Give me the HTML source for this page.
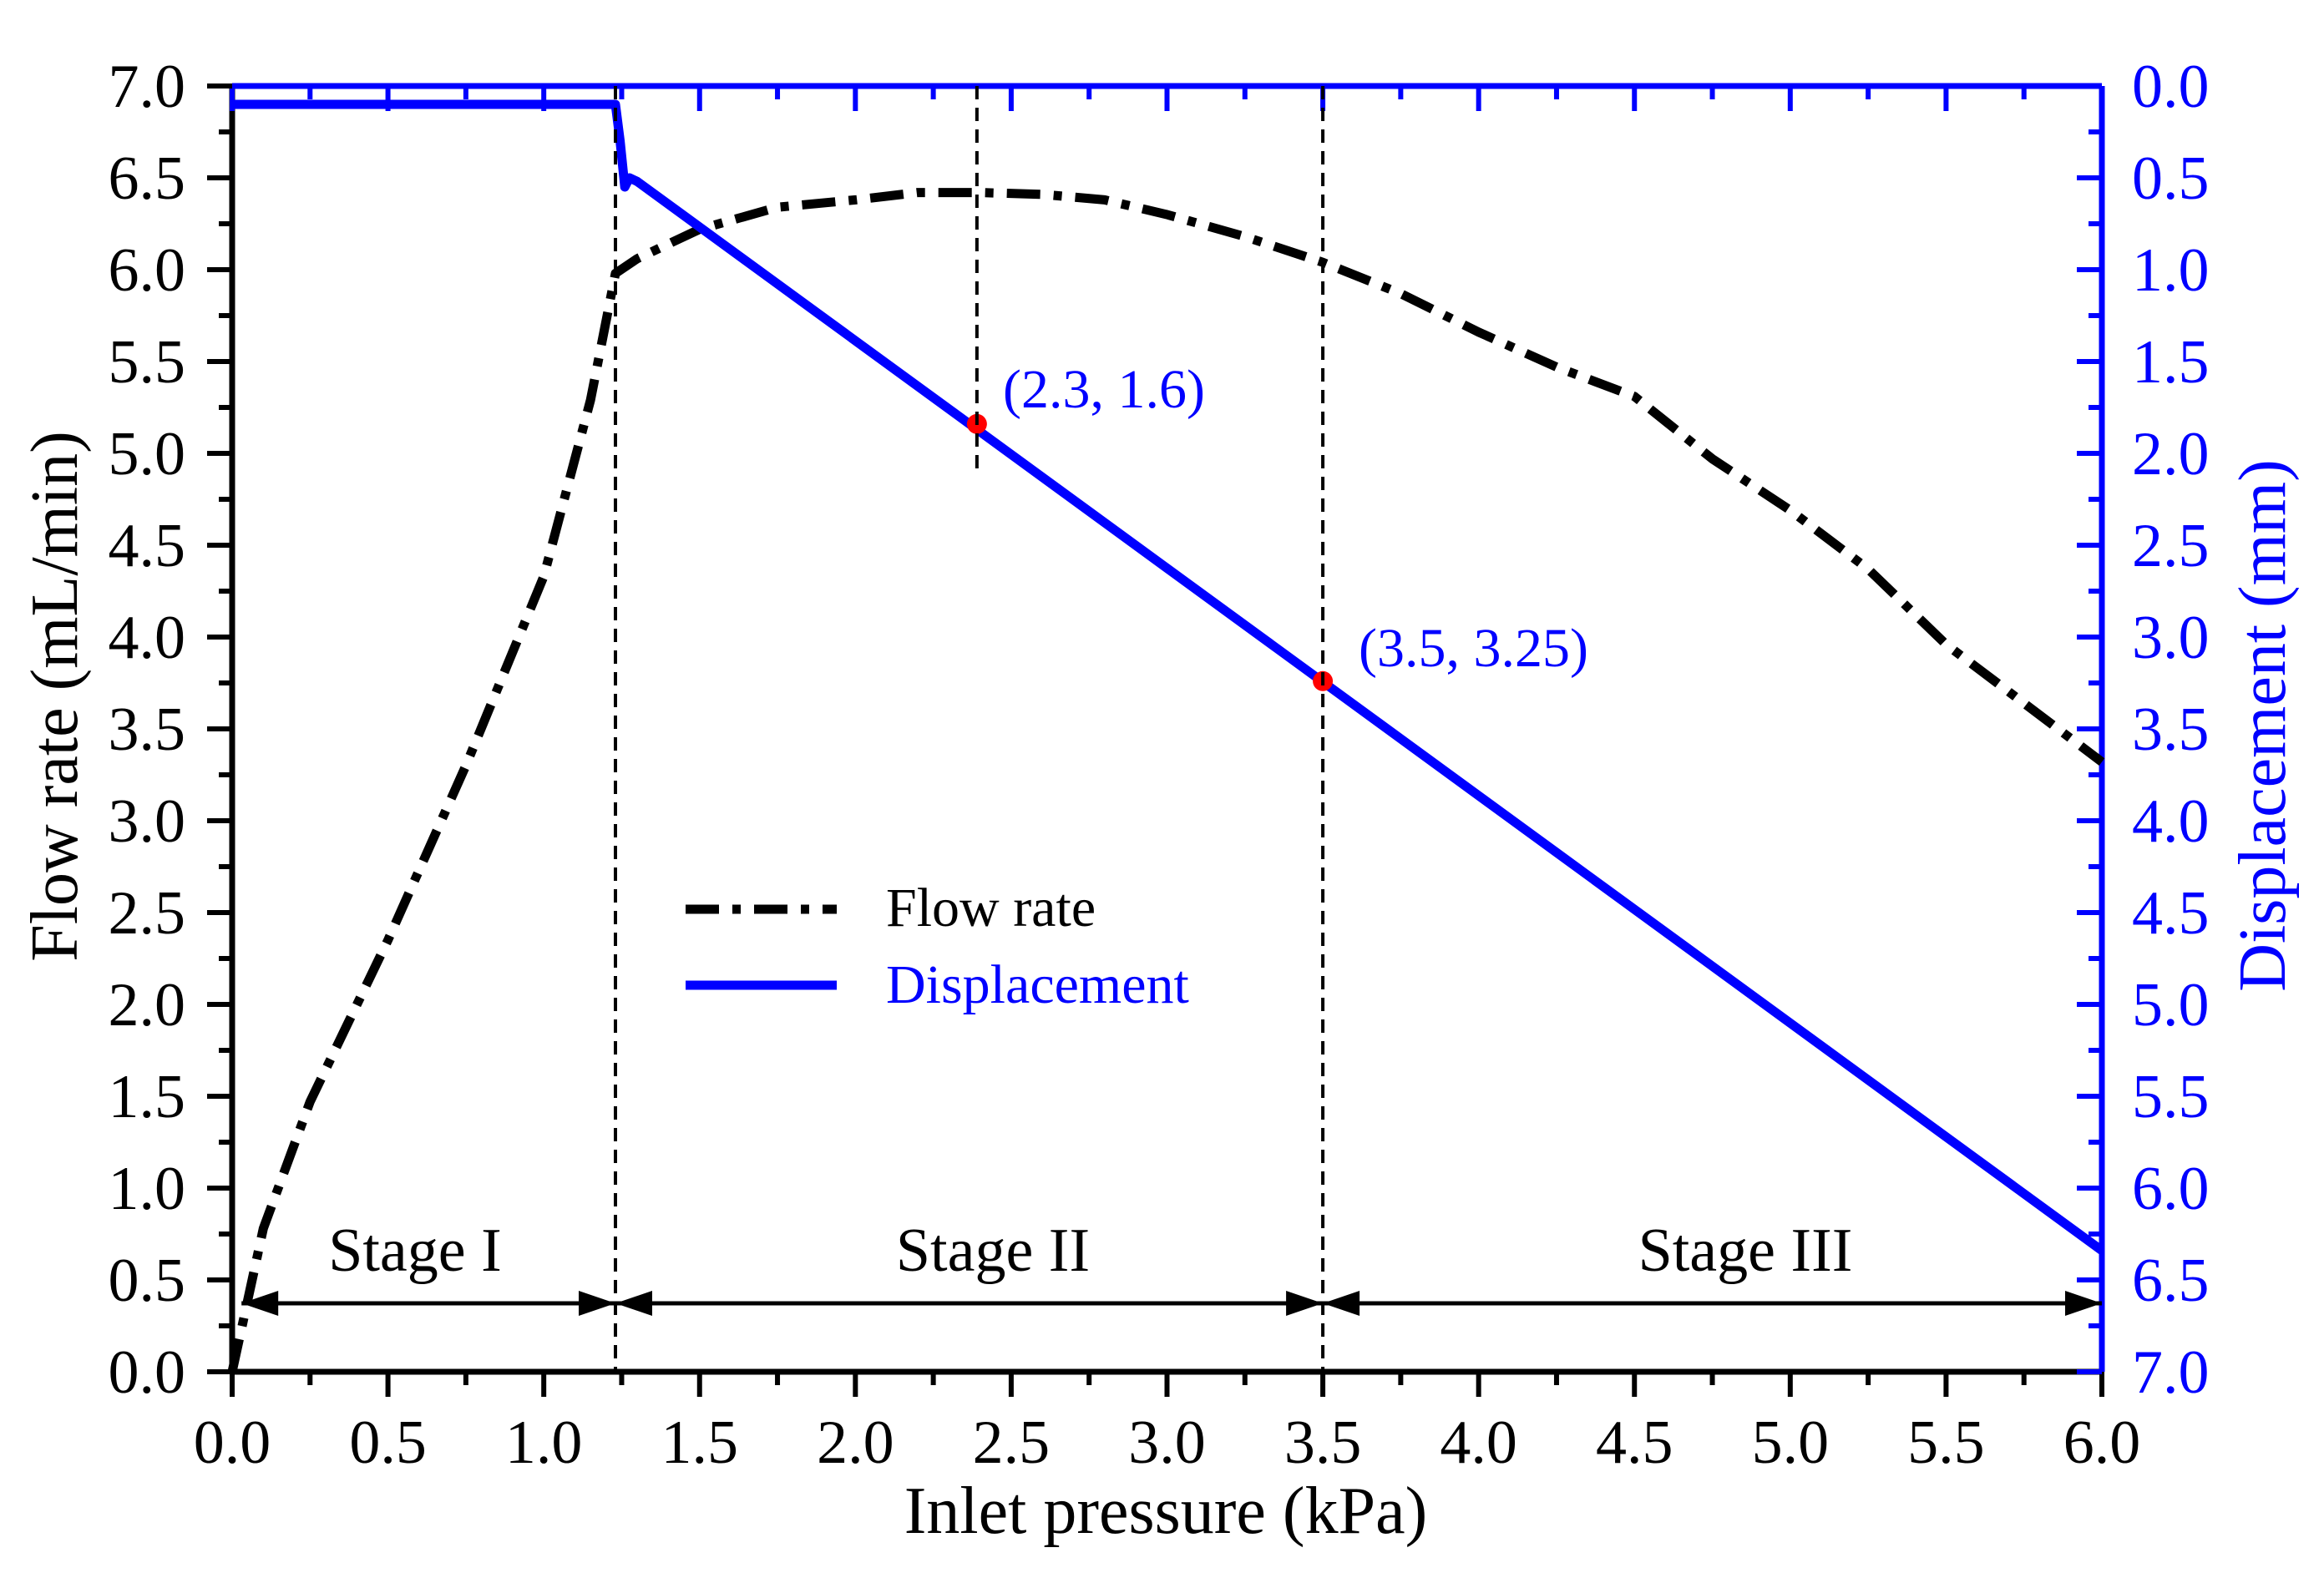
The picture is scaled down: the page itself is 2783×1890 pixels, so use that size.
<!DOCTYPE html>
<html><head><meta charset="utf-8"><style>
html,body{margin:0;padding:0;background:#fff;}
svg{display:block;font-family:"Liberation Serif",serif;}
</style></head><body>
<svg id="chart" width="2783" height="1890" viewBox="0 0 2783 1890" xmlns="http://www.w3.org/2000/svg">
<g id="grid"></g>
<g id="axes"></g>
<g id="series"></g>
<g id="annot"></g>
</svg>
<script>
const pressureX = [0,0.1,0.25,0.5,0.75,1.0,1.15,1.23,1.3,1.5,1.75,2.0,2.2,2.4,2.6,2.8,3.0,3.25,3.5,3.75,4.0,4.25,4.5,4.75,5.0,5.25,5.5,5.75,6.0];
const flowRate = [0,0.78,1.47,2.35,3.3,4.33,5.29,5.98,6.06,6.22,6.34,6.38,6.42,6.42,6.41,6.38,6.30,6.18,6.04,5.87,5.66,5.47,5.31,4.97,4.69,4.37,3.96,3.64,3.32];
const dispX = [0,1.23,1.245,1.26,1.275,1.3,6.0];
const dispY = [0.1,0.1,0.3,0.55,0.5,0.52,6.34];
const markerX = [2.39,3.5];
const markerD = [1.84,3.24];
const markerLabels = ["(2.3, 1.6)","(3.5, 3.25)"];
const stageBounds = [0.03,1.23,3.5,6.0];
const stageLabels = ["Stage I","Stage II","Stage III"];
const xTicks = [0,0.5,1,1.5,2,2.5,3,3.5,4,4.5,5,5.5,6];
const yTicks = [0,0.5,1,1.5,2,2.5,3,3.5,4,4.5,5,5.5,6,6.5,7];

const L=278,R=2517,T=103,B=1643;
const X=v=>L+v*(R-L)/6;
const YL=v=>B-v*(B-T)/7;
const YR=d=>T+d*(B-T)/7;
const NS="http://www.w3.org/2000/svg";
function mk(tag,attrs,parent,text){const e=document.createElementNS(NS,tag);for(const k in attrs)e.setAttribute(k,attrs[k]);if(text!==undefined)e.textContent=text;parent.appendChild(e);return e;}
const axes=document.getElementById('axes'),series=document.getElementById('series'),annot=document.getElementById('annot');

let e;
e=mk('line',{x1:L,y1:B,x2:R,y2:B,stroke:'#000','stroke-width':7},axes);


e=mk('line',{x1:L,y1:T,x2:L,y2:B,stroke:'#000','stroke-width':7},axes);


e=mk('line',{x1:L,y1:T,x2:R,y2:T,stroke:'#00f','stroke-width':7},axes);


e=mk('line',{x1:R,y1:T,x2:R,y2:B,stroke:'#00f','stroke-width':7},axes);



for(let i=0;i<=24;i++){const v=i*0.25;const maj=i%2===0;
 mk('line',{x1:X(v),y1:B,x2:X(v),y2:B+(maj?30:16),stroke:'#000','stroke-width':6},axes);
 mk('line',{x1:X(v),y1:T,x2:X(v),y2:T+(maj?30:16),stroke:'#00f','stroke-width':6},axes);}
xTicks.forEach(v=>{e=mk('text',{x:X(v),y:1752,'text-anchor':'middle','font-size':74,fill:'#000'},axes,v.toFixed(1));
 
 });
for(let i=0;i<=28;i++){const v=i*0.25;const maj=i%2===0;
 mk('line',{x1:L-(maj?30:16),y1:YL(v),x2:L,y2:YL(v),stroke:'#000','stroke-width':6},axes);
 mk('line',{x1:R-(maj?30:16),y1:YL(v),x2:R,y2:YL(v),stroke:'#00f','stroke-width':6},axes);}
yTicks.forEach(v=>{e=mk('text',{x:222,y:YL(v)+25,'text-anchor':'end','font-size':74,fill:'#000'},axes,v.toFixed(1));
 
 
 e=mk('text',{x:2553,y:YR(v)+25,'text-anchor':'start','font-size':74,fill:'#00f'},axes,v.toFixed(1));
 
 });
e=mk('text',{x:1396,y:1836,'text-anchor':'middle','font-size':80,fill:'#000'},axes,'Inlet pressure (kPa)');


e=mk('text',{x:0,y:0,'text-anchor':'middle','font-size':80,fill:'#000',transform:'translate(92,834) rotate(-90)'},axes,'Flow rate (mL/min)');


e=mk('text',{x:0,y:0,'text-anchor':'middle','font-size':80,fill:'#00f',transform:'translate(2736,869) rotate(-90)'},axes,'Displacement (mm)');



[[stageBounds[1],T,B],[markerX[0],T,YL(4.88)],[stageBounds[2],T,B]].forEach(s=>{
 e=mk('line',{x1:X(s[0]),y1:s[1],x2:X(s[0]),y2:s[2],stroke:'#000','stroke-width':4,'stroke-dasharray':'16 10'},annot);
 
 });

e=mk('polyline',{points:pressureX.map((x,i)=>X(x)+','+YL(flowRate[i])).join(' '),fill:'none',stroke:'#000','stroke-width':11,'stroke-dasharray':'40 16 10 16','stroke-linejoin':'round'},series);


e=mk('polyline',{points:dispX.map((x,i)=>X(x)+','+YR(dispY[i])).join(' '),fill:'none',stroke:'#00f','stroke-width':11,'stroke-linejoin':'round'},series);


markerX.forEach((x,i)=>{
 e=mk('circle',{cx:X(x),cy:YR(markerD[i]),r:12,fill:'#f00'},series);
 
 });
e=mk('text',{x:1201,y:488,'font-size':66,fill:'#00f'},annot,markerLabels[0]);


e=mk('text',{x:1627,y:798,'font-size':66,fill:'#00f'},annot,markerLabels[1]);



const ay=1561;
for(let i=0;i<3;i++){const x1=X(stageBounds[i]),x2=X(stageBounds[i+1]);
 e=mk('line',{x1:x1,y1:ay,x2:x2,y2:ay,stroke:'#000','stroke-width':5},annot);
 
 
 mk('polygon',{points:`${x1},${ay} ${x1+44},${ay-15} ${x1+44},${ay+15}`,fill:'#000'},annot);
 mk('polygon',{points:`${x2},${ay} ${x2-44},${ay-15} ${x2-44},${ay+15}`,fill:'#000'},annot);
 const cx=[497,1189,2090][i];
 e=mk('text',{x:cx,y:1522,'text-anchor':'middle','font-size':74,fill:'#000'},annot,stageLabels[i]);
 
 }

e=mk('line',{x1:821,y1:1089,x2:1002,y2:1089,stroke:'#000','stroke-width':11,'stroke-dasharray':'40 16 10 16'},annot);


e=mk('text',{x:1061,y:1109,'font-size':66,fill:'#000'},annot,'Flow rate');


e=mk('line',{x1:821,y1:1180,x2:1002,y2:1180,stroke:'#00f','stroke-width':11},annot);


e=mk('text',{x:1061,y:1201,'font-size':66,fill:'#00f'},annot,'Displacement');


</script>
</body></html>
